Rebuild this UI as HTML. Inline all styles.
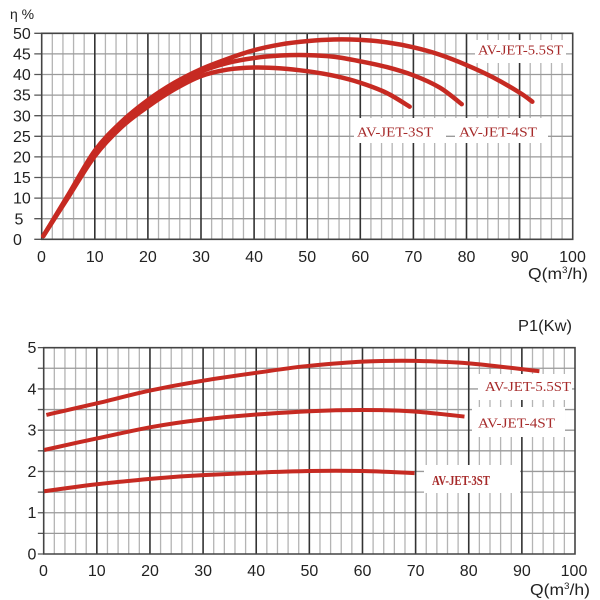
<!DOCTYPE html>
<html><head><meta charset="utf-8"><style>
html,body{margin:0;padding:0;background:#fff;}
svg{display:block;}
.ax{font-family:"Liberation Sans",Arial,sans-serif;font-size:16px;fill:#222;}
.lb{font-family:"Liberation Serif","Times New Roman",serif;font-size:14px;fill:#a62a2a;}
</style></head><body>
<svg width="600" height="600" viewBox="0 0 600 600" xmlns="http://www.w3.org/2000/svg">
<rect width="600" height="600" fill="#fff"/>

<!-- TOP CHART -->
<g transform="translate(41.7,239.3) scale(5.31,-4.12)" fill="none">
  <path vector-effect="non-scaling-stroke" stroke="#b4b4b4" stroke-width="1.3" d="M2 0V50M4 0V50M6 0V50M8 0V50M12 0V50M14 0V50M16 0V50M18 0V50M22 0V50M24 0V50M26 0V50M28 0V50M32 0V50M34 0V50M36 0V50M38 0V50M42 0V50M44 0V50M46 0V50M48 0V50M52 0V50M54 0V50M56 0V50M58 0V50M62 0V50M64 0V50M66 0V50M68 0V50M72 0V50M74 0V50M76 0V50M78 0V50M82 0V50M84 0V50M86 0V50M88 0V50M92 0V50M94 0V50M96 0V50M98 0V50"/>
  <path vector-effect="non-scaling-stroke" stroke="#9a9a9a" stroke-width="1.3" d="M0 5H100M0 10H100M0 15H100M0 20H100M0 25H100M0 30H100M0 35H100M0 40H100M0 45H100"/>
  <path vector-effect="non-scaling-stroke" stroke="#333" stroke-width="1.6" d="M10 0V50M20 0V50M30 0V50M40 0V50M50 0V50M60 0V50M70 0V50M80 0V50M90 0V50"/>
  <path vector-effect="non-scaling-stroke" stroke="#555" stroke-width="1.3" d="M-1.4 0H0M-1.4 5H0M-1.4 10H0M-1.4 15H0M-1.4 20H0M-1.4 25H0M-1.4 30H0M-1.4 35H0M-1.4 40H0M-1.4 45H0M-1.4 50H0"/>
  <rect x="0" y="0" width="100" height="50" vector-effect="non-scaling-stroke" stroke="#444" stroke-width="1.6"/>
</g>
<rect x="475" y="40" width="91" height="23" fill="#fff"/>
<rect x="354" y="118" width="92" height="25" fill="#fff"/>
<rect x="455" y="118" width="93" height="25" fill="#fff"/>
<g transform="translate(41.7,239.3) scale(5.31,-4.12)" fill="none" stroke="#c62a22" stroke-width="4.5" stroke-linecap="round" stroke-linejoin="round">
  <path vector-effect="non-scaling-stroke" d="M0.3,0.8 C1.08,2.47 3.38,7.35 5,10.8 C6.62,14.25 8.33,18.55 10,21.5 C11.67,24.45 13.33,26.45 15,28.5 C16.67,30.55 18.33,32.22 20,33.8 C21.67,35.38 23.33,36.75 25,38 C26.67,39.25 28.33,40.33 30,41.3 C31.67,42.27 33.33,43.03 35,43.8 C36.67,44.57 38.33,45.32 40,45.9 C41.67,46.48 43.33,46.93 45,47.3 C46.67,47.67 48.33,47.9 50,48.1 C51.67,48.3 53.33,48.45 55,48.5 C56.67,48.55 58.33,48.52 60,48.4 C61.67,48.28 63.33,48.1 65,47.8 C66.67,47.5 68.33,47.1 70,46.6 C71.67,46.1 73.33,45.52 75,44.8 C76.67,44.08 78.33,43.22 80,42.3 C81.67,41.38 83.33,40.42 85,39.3 C86.67,38.18 88.77,36.58 90,35.6 C91.23,34.62 92.0,33.77 92.4,33.4"/>
  <path vector-effect="non-scaling-stroke" d="M0.3,0.8 C1.08,2.42 3.38,7.13 5,10.5 C6.62,13.87 8.33,18.08 10,21 C11.67,23.92 13.33,25.97 15,28 C16.67,30.03 18.33,31.63 20,33.2 C21.67,34.77 23.33,36.15 25,37.4 C26.67,38.65 28.33,39.8 30,40.7 C31.67,41.6 33.33,42.25 35,42.8 C36.67,43.35 38.33,43.7 40,44.0 C41.67,44.3 43.33,44.48 45,44.6 C46.67,44.72 48.33,44.75 50,44.7 C51.67,44.65 53.33,44.55 55,44.3 C56.67,44.05 58.33,43.62 60,43.2 C61.67,42.78 63.33,42.37 65,41.8 C66.67,41.23 68.33,40.63 70,39.8 C71.67,38.97 73.48,37.97 75,36.8 C76.52,35.63 78.42,33.47 79.1,32.8"/>
  <path vector-effect="non-scaling-stroke" d="M0.3,0.8 C1.08,2.37 3.38,6.97 5,10.2 C6.62,13.43 8.33,17.37 10,20.2 C11.67,23.03 13.33,25.2 15,27.2 C16.67,29.2 18.33,30.67 20,32.2 C21.67,33.73 23.33,35.17 25,36.4 C26.67,37.63 28.33,38.8 30,39.6 C31.67,40.4 33.33,40.85 35,41.2 C36.67,41.55 38.33,41.65 40,41.7 C41.67,41.75 43.33,41.65 45,41.5 C46.67,41.35 48.33,41.1 50,40.8 C51.67,40.5 53.33,40.17 55,39.7 C56.67,39.23 58.33,38.7 60,38 C61.67,37.3 63.45,36.47 65,35.5 C66.55,34.53 68.58,32.75 69.3,32.2"/>
</g>
<text class="lb" x="478" y="54.3" textLength="85" lengthAdjust="spacingAndGlyphs">AV-JET-5.5ST</text>
<text class="lb" x="357" y="136.5" textLength="76" lengthAdjust="spacingAndGlyphs">AV-JET-3ST</text>
<text class="lb" x="459" y="136.5" textLength="78" lengthAdjust="spacingAndGlyphs">AV-JET-4ST</text>

<g class="ax">
  <text x="10" y="19" font-size="14">η %</text>
  <text x="13" y="38.9">50</text>
  <text x="13" y="59.5">45</text>
  <text x="13" y="80.1">40</text>
  <text x="13" y="100.7">35</text>
  <text x="13" y="121.3">30</text>
  <text x="13" y="141.9">25</text>
  <text x="13" y="162.5">20</text>
  <text x="13" y="183.1">15</text>
  <text x="13" y="203.7">10</text>
  <text x="14.5" y="224.3">5</text>
  <text x="13" y="244.9">0</text>
</g>
<g class="ax" text-anchor="middle">
  <text x="41.5" y="262">0</text>
  <text x="94.8" y="262">10</text>
  <text x="147.9" y="262">20</text>
  <text x="201" y="262">30</text>
  <text x="254.1" y="262">40</text>
  <text x="307.2" y="262">50</text>
  <text x="360.3" y="262">60</text>
  <text x="413.4" y="262">70</text>
  <text x="466.5" y="262">80</text>
  <text x="519.6" y="262">90</text>
  <text x="572.5" y="262">100</text>
</g>
<text class="ax" x="528" y="279" textLength="60" lengthAdjust="spacingAndGlyphs">Q(m<tspan font-size="9" dy="-6">3</tspan><tspan dy="6">/h)</tspan></text>

<!-- BOTTOM CHART -->
<g transform="translate(43.7,554) scale(5.313,-41.27)" fill="none">
  <path vector-effect="non-scaling-stroke" stroke="#b4b4b4" stroke-width="1.3" d="M2 0V5M4 0V5M6 0V5M8 0V5M12 0V5M14 0V5M16 0V5M18 0V5M22 0V5M24 0V5M26 0V5M28 0V5M32 0V5M34 0V5M36 0V5M38 0V5M42 0V5M44 0V5M46 0V5M48 0V5M52 0V5M54 0V5M56 0V5M58 0V5M62 0V5M64 0V5M66 0V5M68 0V5M72 0V5M74 0V5M76 0V5M78 0V5M82 0V5M84 0V5M86 0V5M88 0V5M92 0V5M94 0V5M96 0V5M98 0V5"/>
  <path vector-effect="non-scaling-stroke" stroke="#9a9a9a" stroke-width="1.3" d="M0 0.5H100M0 1H100M0 1.5H100M0 2H100M0 2.5H100M0 3H100M0 3.5H100M0 4H100M0 4.5H100"/>
  <path vector-effect="non-scaling-stroke" stroke="#333" stroke-width="1.6" d="M10 0V5M20 0V5M30 0V5M40 0V5M50 0V5M60 0V5M70 0V5M80 0V5M90 0V5"/>
  <path vector-effect="non-scaling-stroke" stroke="#555" stroke-width="1.3" d="M-1.1 0H0M-1.1 0.5H0M-1.1 1H0M-1.1 1.5H0M-1.1 2H0M-1.1 2.5H0M-1.1 3H0M-1.1 3.5H0M-1.1 4H0M-1.1 4.5H0M-1.1 5H0"/>
  <rect x="0" y="0" width="100" height="5" vector-effect="non-scaling-stroke" stroke="#444" stroke-width="1.6"/>
</g>
<rect x="478" y="374" width="94" height="26" fill="#fff"/>
<rect x="472" y="407" width="93" height="30" fill="#fff"/>
<rect x="424" y="465" width="96" height="28" fill="#fff"/>
<g transform="translate(43.7,554) scale(5.313,-41.27)" fill="none" stroke="#c62a22" stroke-width="4" stroke-linecap="butt" stroke-linejoin="round">
  <path vector-effect="non-scaling-stroke" d="M0.5,3.37 C2.08,3.42 6.75,3.55 10,3.65 C13.33,3.75 16.67,3.87 20,3.96 C23.33,4.05 26.67,4.13 30,4.2 C33.33,4.27 36.67,4.33 40,4.39 C43.33,4.45 46.67,4.52 50,4.56 C53.33,4.6 56.67,4.64 60,4.66 C63.33,4.68 66.67,4.69 70,4.68 C73.33,4.67 76.12,4.66 80,4.62 C83.88,4.58 91.08,4.46 93.3,4.43"/>
  <path vector-effect="non-scaling-stroke" d="M0.1,2.52 C1.75,2.57 6.68,2.71 10,2.8 C13.32,2.89 16.67,2.99 20,3.07 C23.33,3.15 26.67,3.21 30,3.26 C33.33,3.31 36.67,3.35 40,3.38 C43.33,3.41 46.67,3.44 50,3.46 C53.33,3.48 56.67,3.49 60,3.49 C63.33,3.49 66.8,3.48 70,3.45 C73.2,3.42 77.67,3.35 79.2,3.33"/>
  <path vector-effect="non-scaling-stroke" d="M0.1,1.52 C1.75,1.55 6.68,1.64 10,1.69 C13.32,1.74 16.67,1.78 20,1.82 C23.33,1.86 26.67,1.89 30,1.91 C33.33,1.93 36.67,1.95 40,1.97 C43.33,1.99 46.67,2.0 50,2.01 C53.33,2.02 56.7,2.02 60,2.01 C63.3,2.0 68.17,1.97 69.8,1.96"/>
</g>
<text class="lb" x="485" y="391" textLength="86" lengthAdjust="spacingAndGlyphs">AV-JET-5.5ST</text>
<text class="lb" x="478" y="427.5" textLength="77" lengthAdjust="spacingAndGlyphs">AV-JET-4ST</text>
<text class="lb" x="432" y="485" font-size="11.5" font-weight="bold" textLength="58" lengthAdjust="spacingAndGlyphs">AV-JET-3ST</text>

<g class="ax">
  <text x="518" y="331" font-size="16" textLength="54" lengthAdjust="spacingAndGlyphs">P1(Kw)</text>
  <text x="27.5" y="353">5</text>
  <text x="27.5" y="394.3">4</text>
  <text x="27.5" y="435.6">3</text>
  <text x="27.5" y="476.9">2</text>
  <text x="27.5" y="518.1">1</text>
  <text x="27.5" y="559.4">0</text>
</g>
<g class="ax" text-anchor="middle">
  <text x="43.5" y="576">0</text>
  <text x="96.8" y="576">10</text>
  <text x="150" y="576">20</text>
  <text x="203.1" y="576">30</text>
  <text x="256.2" y="576">40</text>
  <text x="309.4" y="576">50</text>
  <text x="362.5" y="576">60</text>
  <text x="415.6" y="576">70</text>
  <text x="468.7" y="576">80</text>
  <text x="521.9" y="576">90</text>
  <text x="574" y="576">100</text>
</g>
<text class="ax" x="530" y="595" textLength="60" lengthAdjust="spacingAndGlyphs">Q(m<tspan font-size="9" dy="-6">3</tspan><tspan dy="6">/h)</tspan></text>
</svg>
</body></html>
